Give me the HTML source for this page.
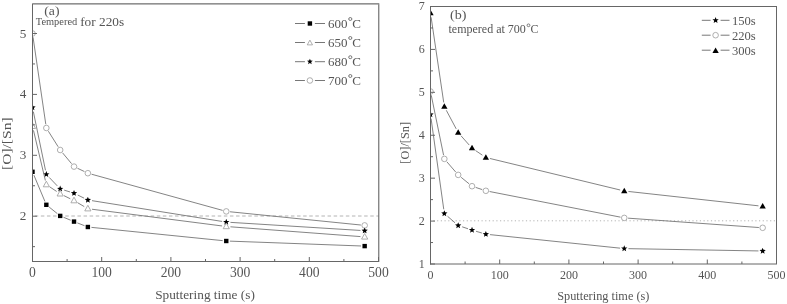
<!DOCTYPE html><html><head><meta charset="utf-8"><style>html,body{margin:0;padding:0;background:#fff;}svg{filter:grayscale(1);}svg{display:block;}text{font-family:"Liberation Serif", serif;fill:#555;}</style></head><body>
<svg width="787" height="304" viewBox="0 0 787 304">
<rect width="787" height="304" fill="#fff"/>
<defs><clipPath id="cl"><rect x="32.5" y="3.5" width="346.0" height="258.0"/></clipPath><clipPath id="cr"><rect x="430.5" y="6.5" width="346.0" height="257.5"/></clipPath></defs>
<line x1="32.5" y1="216.00" x2="378.5" y2="216.00" stroke="#b4b4b4" stroke-width="1" stroke-dasharray="3.5 2.6" stroke-dashoffset="3.85"/>
<line x1="430.5" y1="220.8" x2="776.5" y2="220.8" stroke="#b4b4b4" stroke-width="1" stroke-dasharray="1.2 2.5" stroke-dashoffset="0.8"/>
<g clip-path="url(#cl)"><path d="M33.05,37.26 L45.79,124.24 M48.36,131.22 L58.16,146.78 M62.61,152.92 L71.59,163.68 M77.45,168.24 L84.43,171.56 M91.52,174.21 L222.60,210.39 M230.04,211.78 L360.88,225.02 " fill="none" stroke="#6e6e6e" stroke-width="0.85"/><circle cx="32.50" cy="33.50" r="2.8" fill="#fff" stroke="#9a9a9a" stroke-width="0.8"/><circle cx="46.34" cy="128.00" r="2.8" fill="#fff" stroke="#9a9a9a" stroke-width="0.8"/><circle cx="60.18" cy="150.00" r="2.8" fill="#fff" stroke="#9a9a9a" stroke-width="0.8"/><circle cx="74.02" cy="166.60" r="2.8" fill="#fff" stroke="#9a9a9a" stroke-width="0.8"/><circle cx="87.86" cy="173.20" r="2.8" fill="#fff" stroke="#9a9a9a" stroke-width="0.8"/><circle cx="226.26" cy="211.40" r="2.8" fill="#fff" stroke="#9a9a9a" stroke-width="0.8"/><circle cx="364.66" cy="225.40" r="2.8" fill="#fff" stroke="#9a9a9a" stroke-width="0.8"/></g>
<g clip-path="url(#cl)"><path d="M33.35,111.61 L45.49,170.29 M49.24,177.44 L57.28,185.86 M64.19,190.15 L70.01,191.95 M77.79,195.05 L84.09,198.15 M92.01,200.66 L222.11,221.44 M230.45,222.36 L360.47,230.44 " fill="none" stroke="#6e6e6e" stroke-width="0.85"/><path d="M32.50,104.20 L33.35,106.33 L35.64,106.48 L33.88,107.95 L34.44,110.17 L32.50,108.95 L30.56,110.17 L31.12,107.95 L29.36,106.48 L31.65,106.33Z" fill="#000"/><path d="M46.34,171.10 L47.19,173.23 L49.48,173.38 L47.72,174.85 L48.28,177.07 L46.34,175.85 L44.40,177.07 L44.96,174.85 L43.20,173.38 L45.49,173.23Z" fill="#000"/><path d="M60.18,185.60 L61.03,187.73 L63.32,187.88 L61.56,189.35 L62.12,191.57 L60.18,190.35 L58.24,191.57 L58.80,189.35 L57.04,187.88 L59.33,187.73Z" fill="#000"/><path d="M74.02,189.90 L74.87,192.03 L77.16,192.18 L75.40,193.65 L75.96,195.87 L74.02,194.65 L72.08,195.87 L72.64,193.65 L70.88,192.18 L73.17,192.03Z" fill="#000"/><path d="M87.86,196.70 L88.71,198.83 L91.00,198.98 L89.24,200.45 L89.80,202.67 L87.86,201.45 L85.92,202.67 L86.48,200.45 L84.72,198.98 L87.01,198.83Z" fill="#000"/><path d="M226.26,218.80 L227.11,220.93 L229.40,221.08 L227.64,222.55 L228.20,224.77 L226.26,223.55 L224.32,224.77 L224.88,222.55 L223.12,221.08 L225.41,220.93Z" fill="#000"/><path d="M364.66,227.40 L365.51,229.53 L367.80,229.68 L366.04,231.15 L366.60,233.37 L364.66,232.15 L362.72,233.37 L363.28,231.15 L361.52,229.68 L363.81,229.53Z" fill="#000"/></g>
<g clip-path="url(#cl)"><path d="M33.47,130.39 L45.37,180.51 M49.84,186.93 L56.68,191.47 M63.95,195.65 L70.25,198.75 M77.64,202.72 L84.24,206.58 M92.03,209.24 L222.09,225.96 M230.45,226.81 L360.47,236.59 " fill="none" stroke="#6e6e6e" stroke-width="0.85"/><path d="M32.50,122.90 L35.60,128.50 L29.40,128.50Z" fill="#fff" stroke="#9a9a9a" stroke-width="0.8"/><path d="M46.34,181.20 L49.44,186.80 L43.24,186.80Z" fill="#fff" stroke="#9a9a9a" stroke-width="0.8"/><path d="M60.18,190.40 L63.28,196.00 L57.08,196.00Z" fill="#fff" stroke="#9a9a9a" stroke-width="0.8"/><path d="M74.02,197.20 L77.12,202.80 L70.92,202.80Z" fill="#fff" stroke="#9a9a9a" stroke-width="0.8"/><path d="M87.86,205.30 L90.96,210.90 L84.76,210.90Z" fill="#fff" stroke="#9a9a9a" stroke-width="0.8"/><path d="M226.26,223.10 L229.36,228.70 L223.16,228.70Z" fill="#fff" stroke="#9a9a9a" stroke-width="0.8"/><path d="M364.66,233.50 L367.76,239.10 L361.56,239.10Z" fill="#fff" stroke="#9a9a9a" stroke-width="0.8"/></g>
<g clip-path="url(#cl)"><path d="M33.89,175.12 L44.95,201.48 M49.15,207.05 L57.37,213.65 M63.51,217.27 L70.69,220.23 M77.37,222.91 L84.51,225.69 M91.44,227.36 L222.68,240.64 M229.86,241.13 L361.06,245.97 " fill="none" stroke="#6e6e6e" stroke-width="0.85"/><rect x="30.30" y="169.60" width="4.4" height="4.4" fill="#000"/><rect x="44.14" y="202.60" width="4.4" height="4.4" fill="#000"/><rect x="57.98" y="213.70" width="4.4" height="4.4" fill="#000"/><rect x="71.82" y="219.40" width="4.4" height="4.4" fill="#000"/><rect x="85.66" y="224.80" width="4.4" height="4.4" fill="#000"/><rect x="224.06" y="238.80" width="4.4" height="4.4" fill="#000"/><rect x="362.46" y="243.90" width="4.4" height="4.4" fill="#000"/></g>
<g clip-path="url(#cr)"><path d="M431.11,17.25 L443.73,102.45 M446.31,110.31 L456.21,128.89 M460.97,135.74 L469.23,145.06 M475.51,150.54 L482.37,155.16 M489.94,158.49 L620.18,190.01 M628.43,191.46 L758.49,205.84 " fill="none" stroke="#6e6e6e" stroke-width="0.85"/><path d="M430.50,9.75 L433.65,15.25 L427.35,15.25Z" fill="#000"/><path d="M444.34,103.25 L447.49,108.75 L441.19,108.75Z" fill="#000"/><path d="M458.18,129.25 L461.33,134.75 L455.03,134.75Z" fill="#000"/><path d="M472.02,144.85 L475.17,150.35 L468.87,150.35Z" fill="#000"/><path d="M485.86,154.15 L489.01,159.65 L482.71,159.65Z" fill="#000"/><path d="M624.26,187.65 L627.41,193.15 L621.11,193.15Z" fill="#000"/><path d="M762.66,202.95 L765.81,208.45 L759.51,208.45Z" fill="#000"/></g>
<g clip-path="url(#cr)"><path d="M431.26,95.22 L443.58,155.18 M446.83,161.77 L455.69,172.03 M461.12,177.30 L469.08,183.80 M475.63,187.40 L482.25,189.60 M489.59,191.53 L620.53,217.17 M628.05,218.17 L758.87,227.53 " fill="none" stroke="#6e6e6e" stroke-width="0.85"/><circle cx="430.50" cy="91.50" r="2.8" fill="#fff" stroke="#9a9a9a" stroke-width="0.8"/><circle cx="444.34" cy="158.90" r="2.8" fill="#fff" stroke="#9a9a9a" stroke-width="0.8"/><circle cx="458.18" cy="174.90" r="2.8" fill="#fff" stroke="#9a9a9a" stroke-width="0.8"/><circle cx="472.02" cy="186.20" r="2.8" fill="#fff" stroke="#9a9a9a" stroke-width="0.8"/><circle cx="485.86" cy="190.80" r="2.8" fill="#fff" stroke="#9a9a9a" stroke-width="0.8"/><circle cx="624.26" cy="217.90" r="2.8" fill="#fff" stroke="#9a9a9a" stroke-width="0.8"/><circle cx="762.66" cy="227.80" r="2.8" fill="#fff" stroke="#9a9a9a" stroke-width="0.8"/></g>
<g clip-path="url(#cr)"><path d="M431.08,118.66 L443.76,209.34 M447.51,216.25 L455.01,222.75 M462.17,226.82 L468.03,228.78 M476.05,231.29 L481.83,233.01 M490.04,234.63 L620.08,248.17 M628.46,248.67 L758.46,250.93 " fill="none" stroke="#6e6e6e" stroke-width="0.85"/><path d="M430.50,111.20 L431.35,113.33 L433.64,113.48 L431.88,114.95 L432.44,117.17 L430.50,115.95 L428.56,117.17 L429.12,114.95 L427.36,113.48 L429.65,113.33Z" fill="#000"/><path d="M444.34,210.20 L445.19,212.33 L447.48,212.48 L445.72,213.95 L446.28,216.17 L444.34,214.95 L442.40,216.17 L442.96,213.95 L441.20,212.48 L443.49,212.33Z" fill="#000"/><path d="M458.18,222.20 L459.03,224.33 L461.32,224.48 L459.56,225.95 L460.12,228.17 L458.18,226.95 L456.24,228.17 L456.80,225.95 L455.04,224.48 L457.33,224.33Z" fill="#000"/><path d="M472.02,226.80 L472.87,228.93 L475.16,229.08 L473.40,230.55 L473.96,232.77 L472.02,231.55 L470.08,232.77 L470.64,230.55 L468.88,229.08 L471.17,228.93Z" fill="#000"/><path d="M485.86,230.90 L486.71,233.03 L489.00,233.18 L487.24,234.65 L487.80,236.87 L485.86,235.65 L483.92,236.87 L484.48,234.65 L482.72,233.18 L485.01,233.03Z" fill="#000"/><path d="M624.26,245.30 L625.11,247.43 L627.40,247.58 L625.64,249.05 L626.20,251.27 L624.26,250.05 L622.32,251.27 L622.88,249.05 L621.12,247.58 L623.41,247.43Z" fill="#000"/><path d="M762.66,247.70 L763.51,249.83 L765.80,249.98 L764.04,251.45 L764.60,253.67 L762.66,252.45 L760.72,253.67 L761.28,251.45 L759.52,249.98 L761.81,249.83Z" fill="#000"/></g>
<line x1="32.0" y1="261.5" x2="379.3" y2="261.5" stroke="#666" stroke-width="1"/><line x1="32.5" y1="3.4" x2="32.5" y2="262.0" stroke="#666" stroke-width="1"/><line x1="33.0" y1="3.9" x2="379.3" y2="3.9" stroke="#4a4a4a" stroke-width="1"/><line x1="378.8" y1="4.4" x2="378.8" y2="261.0" stroke="#555" stroke-width="1"/><line x1="32.50" y1="261.5" x2="32.50" y2="257.0" stroke="#666" stroke-width="1"/><text x="32.50" y="277.2" font-size="13.6" text-anchor="middle">0</text><line x1="67.10" y1="261.5" x2="67.10" y2="259.0" stroke="#666" stroke-width="1"/><line x1="101.70" y1="261.5" x2="101.70" y2="257.0" stroke="#666" stroke-width="1"/><text x="101.70" y="277.2" font-size="13.6" text-anchor="middle">100</text><line x1="136.30" y1="261.5" x2="136.30" y2="259.0" stroke="#666" stroke-width="1"/><line x1="170.90" y1="261.5" x2="170.90" y2="257.0" stroke="#666" stroke-width="1"/><text x="170.90" y="277.2" font-size="13.6" text-anchor="middle">200</text><line x1="205.50" y1="261.5" x2="205.50" y2="259.0" stroke="#666" stroke-width="1"/><line x1="240.10" y1="261.5" x2="240.10" y2="257.0" stroke="#666" stroke-width="1"/><text x="240.10" y="277.2" font-size="13.6" text-anchor="middle">300</text><line x1="274.70" y1="261.5" x2="274.70" y2="259.0" stroke="#666" stroke-width="1"/><line x1="309.30" y1="261.5" x2="309.30" y2="257.0" stroke="#666" stroke-width="1"/><text x="309.30" y="277.2" font-size="13.6" text-anchor="middle">400</text><line x1="343.90" y1="261.5" x2="343.90" y2="259.0" stroke="#666" stroke-width="1"/><line x1="378.50" y1="261.5" x2="378.50" y2="257.0" stroke="#666" stroke-width="1"/><text x="378.50" y="277.2" font-size="13.6" text-anchor="middle">500</text><line x1="32.5" y1="216.20" x2="37.0" y2="216.20" stroke="#666" stroke-width="1"/><text x="26.3" y="220.20" font-size="13.2" text-anchor="end">2</text><line x1="32.5" y1="155.30" x2="37.0" y2="155.30" stroke="#666" stroke-width="1"/><text x="26.3" y="159.30" font-size="13.2" text-anchor="end">3</text><line x1="32.5" y1="94.40" x2="37.0" y2="94.40" stroke="#666" stroke-width="1"/><text x="26.3" y="98.40" font-size="13.2" text-anchor="end">4</text><line x1="32.5" y1="33.50" x2="37.0" y2="33.50" stroke="#666" stroke-width="1"/><text x="26.3" y="37.50" font-size="13.2" text-anchor="end">5</text><line x1="32.5" y1="246.65" x2="35.0" y2="246.65" stroke="#666" stroke-width="1"/><line x1="32.5" y1="185.75" x2="35.0" y2="185.75" stroke="#666" stroke-width="1"/><line x1="32.5" y1="124.85" x2="35.0" y2="124.85" stroke="#666" stroke-width="1"/><line x1="32.5" y1="63.95" x2="35.0" y2="63.95" stroke="#666" stroke-width="1"/>
<line x1="430.0" y1="264.0" x2="777.0" y2="264.0" stroke="#666" stroke-width="1"/><line x1="430.5" y1="6.0" x2="430.5" y2="264.5" stroke="#666" stroke-width="1"/><line x1="431.0" y1="6.5" x2="777.0" y2="6.5" stroke="#666" stroke-width="1"/><line x1="776.5" y1="7.0" x2="776.5" y2="263.5" stroke="#666" stroke-width="1"/><line x1="430.50" y1="264.0" x2="430.50" y2="259.5" stroke="#666" stroke-width="1"/><text x="430.50" y="279" font-size="12" text-anchor="middle">0</text><line x1="465.10" y1="264.0" x2="465.10" y2="261.5" stroke="#666" stroke-width="1"/><line x1="499.70" y1="264.0" x2="499.70" y2="259.5" stroke="#666" stroke-width="1"/><text x="499.70" y="279" font-size="12" text-anchor="middle">100</text><line x1="534.30" y1="264.0" x2="534.30" y2="261.5" stroke="#666" stroke-width="1"/><line x1="568.90" y1="264.0" x2="568.90" y2="259.5" stroke="#666" stroke-width="1"/><text x="568.90" y="279" font-size="12" text-anchor="middle">200</text><line x1="603.50" y1="264.0" x2="603.50" y2="261.5" stroke="#666" stroke-width="1"/><line x1="638.10" y1="264.0" x2="638.10" y2="259.5" stroke="#666" stroke-width="1"/><text x="638.10" y="279" font-size="12" text-anchor="middle">300</text><line x1="672.70" y1="264.0" x2="672.70" y2="261.5" stroke="#666" stroke-width="1"/><line x1="707.30" y1="264.0" x2="707.30" y2="259.5" stroke="#666" stroke-width="1"/><text x="707.30" y="279" font-size="12" text-anchor="middle">400</text><line x1="741.90" y1="264.0" x2="741.90" y2="261.5" stroke="#666" stroke-width="1"/><line x1="776.50" y1="264.0" x2="776.50" y2="259.5" stroke="#666" stroke-width="1"/><text x="776.50" y="279" font-size="12" text-anchor="middle">500</text><line x1="430.5" y1="264.00" x2="435.0" y2="264.00" stroke="#666" stroke-width="1"/><text x="424.8" y="267.60" font-size="12" text-anchor="end">1</text><line x1="430.5" y1="221.08" x2="435.0" y2="221.08" stroke="#666" stroke-width="1"/><text x="424.8" y="224.68" font-size="12" text-anchor="end">2</text><line x1="430.5" y1="178.17" x2="435.0" y2="178.17" stroke="#666" stroke-width="1"/><text x="424.8" y="181.77" font-size="12" text-anchor="end">3</text><line x1="430.5" y1="135.25" x2="435.0" y2="135.25" stroke="#666" stroke-width="1"/><text x="424.8" y="138.85" font-size="12" text-anchor="end">4</text><line x1="430.5" y1="92.33" x2="435.0" y2="92.33" stroke="#666" stroke-width="1"/><text x="424.8" y="95.93" font-size="12" text-anchor="end">5</text><line x1="430.5" y1="49.42" x2="435.0" y2="49.42" stroke="#666" stroke-width="1"/><text x="424.8" y="53.02" font-size="12" text-anchor="end">6</text><line x1="430.5" y1="6.50" x2="435.0" y2="6.50" stroke="#666" stroke-width="1"/><text x="424.8" y="9.90" font-size="12" text-anchor="end">7</text><line x1="430.5" y1="242.54" x2="433.0" y2="242.54" stroke="#666" stroke-width="1"/><line x1="430.5" y1="199.62" x2="433.0" y2="199.62" stroke="#666" stroke-width="1"/><line x1="430.5" y1="156.71" x2="433.0" y2="156.71" stroke="#666" stroke-width="1"/><line x1="430.5" y1="113.79" x2="433.0" y2="113.79" stroke="#666" stroke-width="1"/><line x1="430.5" y1="70.88" x2="433.0" y2="70.88" stroke="#666" stroke-width="1"/><line x1="430.5" y1="27.96" x2="433.0" y2="27.96" stroke="#666" stroke-width="1"/>
<text x="205.0" y="299.4" font-size="13.3" text-anchor="middle">Sputtering time (s)</text>
<text x="603.3" y="299.8" font-size="12.3" text-anchor="middle">Sputtering time (s)</text>
<text transform="translate(11.4,143.7) rotate(-90)" font-size="13" text-anchor="middle" textLength="52.5" lengthAdjust="spacingAndGlyphs">[O]/[Sn]</text>
<text transform="translate(409.3,142.8) rotate(-90)" font-size="12.3" text-anchor="middle">[O]/[Sn]</text>
<text x="44.3" y="14.7" font-size="12.5" textLength="15.2" lengthAdjust="spacingAndGlyphs">(a)</text>
<text x="35.8" y="24.6" font-size="10.4">Tempered</text>
<text x="80.2" y="25.8" font-size="13.3">for 220s</text>
<text x="450.0" y="18.6" font-size="12.5" textLength="16.4" lengthAdjust="spacingAndGlyphs">(b)</text>
<text x="448.5" y="33.3" font-size="12">tempered at 700</text>
<ellipse cx="528.5" cy="25.3" rx="1.45" ry="1.35" fill="none" stroke="#555" stroke-width="0.75"/>
<text x="530.4" y="33.3" font-size="12">C</text>
<line x1="295" y1="23.5" x2="304.9" y2="23.5" stroke="#777" stroke-width="1"/><line x1="314.9" y1="23.5" x2="325" y2="23.5" stroke="#777" stroke-width="1"/><rect x="307.70" y="21.30" width="4.4" height="4.4" fill="#000"/><text x="328.0" y="28.18" font-size="13">600</text><ellipse cx="350.30" cy="19.00" rx="1.6" ry="1.45" fill="none" stroke="#555" stroke-width="0.8"/><text x="352.30" y="28.18" font-size="13">C</text>
<line x1="295" y1="42.5" x2="304.9" y2="42.5" stroke="#777" stroke-width="1"/><line x1="314.9" y1="42.5" x2="325" y2="42.5" stroke="#777" stroke-width="1"/><path d="M309.90,40.12 L312.53,44.88 L307.26,44.88Z" fill="#fff" stroke="#9a9a9a" stroke-width="0.8"/><text x="328.0" y="47.18" font-size="13">650</text><ellipse cx="350.30" cy="38.00" rx="1.6" ry="1.45" fill="none" stroke="#555" stroke-width="0.8"/><text x="352.30" y="47.18" font-size="13">C</text>
<line x1="295" y1="61.7" x2="304.9" y2="61.7" stroke="#777" stroke-width="1"/><line x1="314.9" y1="61.7" x2="325" y2="61.7" stroke="#777" stroke-width="1"/><path d="M309.90,58.66 L310.68,60.62 L312.79,60.76 L311.17,62.11 L311.68,64.16 L309.90,63.03 L308.12,64.16 L308.63,62.11 L307.01,60.76 L309.12,60.62Z" fill="#000"/><text x="328.0" y="66.38" font-size="13">680</text><ellipse cx="350.30" cy="57.20" rx="1.6" ry="1.45" fill="none" stroke="#555" stroke-width="0.8"/><text x="352.30" y="66.38" font-size="13">C</text>
<line x1="295" y1="80.5" x2="304.9" y2="80.5" stroke="#777" stroke-width="1"/><line x1="314.9" y1="80.5" x2="325" y2="80.5" stroke="#777" stroke-width="1"/><circle cx="309.90" cy="80.50" r="2.8" fill="#fff" stroke="#9a9a9a" stroke-width="0.8"/><text x="328.0" y="85.18" font-size="13">700</text><ellipse cx="350.30" cy="76.00" rx="1.6" ry="1.45" fill="none" stroke="#555" stroke-width="0.8"/><text x="352.30" y="85.18" font-size="13">C</text>
<line x1="701.8" y1="20.3" x2="710.6" y2="20.3" stroke="#777" stroke-width="1"/><line x1="720.6" y1="20.3" x2="729.5" y2="20.3" stroke="#777" stroke-width="1"/><path d="M715.60,17.00 L716.45,19.13 L718.74,19.28 L716.98,20.75 L717.54,22.97 L715.60,21.75 L713.66,22.97 L714.22,20.75 L712.46,19.28 L714.75,19.13Z" fill="#000"/><text x="731.9" y="24.84" font-size="12.6">150s</text>
<line x1="701.8" y1="35.2" x2="710.6" y2="35.2" stroke="#777" stroke-width="1"/><line x1="720.6" y1="35.2" x2="729.5" y2="35.2" stroke="#777" stroke-width="1"/><circle cx="715.60" cy="35.20" r="2.8" fill="#fff" stroke="#9a9a9a" stroke-width="0.8"/><text x="731.9" y="39.74" font-size="12.6">220s</text>
<line x1="701.8" y1="50.2" x2="710.6" y2="50.2" stroke="#777" stroke-width="1"/><line x1="720.6" y1="50.2" x2="729.5" y2="50.2" stroke="#777" stroke-width="1"/><path d="M715.60,47.45 L718.75,52.95 L712.45,52.95Z" fill="#000"/><text x="731.9" y="54.74" font-size="12.6">300s</text>
</svg></body></html>
